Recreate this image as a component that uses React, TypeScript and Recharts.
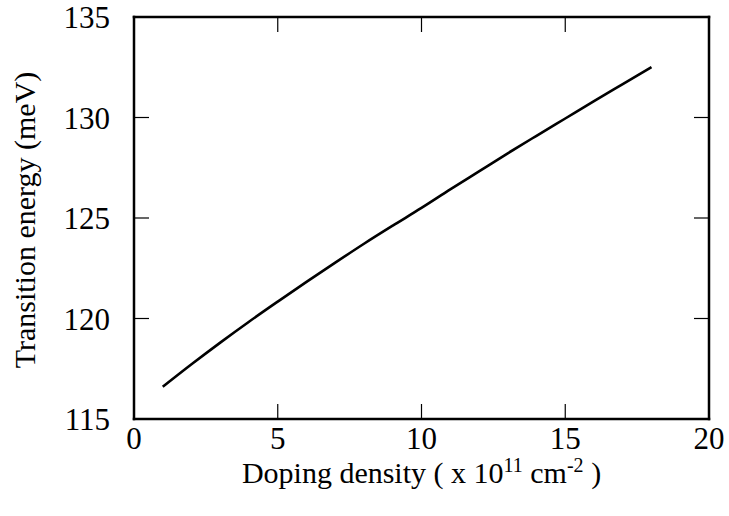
import React from 'react';
import { LineChart, Line, XAxis, YAxis, Label } from 'recharts';

// Doping density (units of 1e11 cm^-2)
const dopingDensity = [1, 2, 3, 4, 5, 6, 7, 8, 9, 10, 11, 12, 13, 14, 15, 16, 17, 18];
// Transition energy (meV)
const transitionEnergy = [
  116.6, 117.72, 118.8, 119.84, 120.84, 121.82, 122.78, 123.72, 124.62, 125.5,
  126.42, 127.32, 128.22, 129.09, 129.95, 130.81, 131.66, 132.51,
];
const xTicks = [0, 5, 10, 15, 20];
const yTicks = [115, 120, 125, 130, 135];

const data = dopingDensity.map((d, i) => ({ d, e: transitionEnergy[i] }));

const FONT = '"Liberation Serif", "Times New Roman", serif';
const TICK_FONT_SIZE = 31;
const TITLE_FONT_SIZE = 30;
const TICK_LEN = 15;
const xDomain: [number, number] = [xTicks[0], xTicks[xTicks.length - 1]];
const yDomain: [number, number] = [yTicks[0], yTicks[yTicks.length - 1]];

const isInner = (v: number, dom: [number, number]) => v > dom[0] && v < dom[1];

// Inward-pointing tick marks on all four sides of the frame
const BottomTick = (props: any) => {
  const { x, y, payload } = props;
  const v = payload.value;
  return (
    <g>
      {isInner(v, xDomain) && (
        <line x1={x} y1={y} x2={x} y2={y - TICK_LEN} stroke="#000" strokeWidth={1.2} />
      )}
      <text x={x} y={y + 30} textAnchor="middle" fontFamily={FONT} fontSize={TICK_FONT_SIZE} fill="#000">
        {v}
      </text>
    </g>
  );
};

const TopTick = (props: any) => {
  const { x, y, payload } = props;
  if (!isInner(payload.value, xDomain)) return <g />;
  return <line x1={x} y1={y} x2={x} y2={y + TICK_LEN} stroke="#000" strokeWidth={1.2} />;
};

const LeftTick = (props: any) => {
  const { x, y, payload } = props;
  const v = payload.value;
  return (
    <g>
      {isInner(v, yDomain) && (
        <line x1={x} y1={y} x2={x + TICK_LEN} y2={y} stroke="#000" strokeWidth={1.2} />
      )}
      <text x={x - 24} y={y + 11} textAnchor="end" fontFamily={FONT} fontSize={TICK_FONT_SIZE} fill="#000">
        {v}
      </text>
    </g>
  );
};

const RightTick = (props: any) => {
  const { x, y, payload } = props;
  if (!isInner(payload.value, yDomain)) return <g />;
  return <line x1={x} y1={y} x2={x - TICK_LEN} y2={y} stroke="#000" strokeWidth={1.2} />;
};

const XTitle = (props: any) => {
  const vb = props.viewBox;
  const cx = vb.x + vb.width / 2;
  return (
    <text x={cx} y={vb.y + 64} textAnchor="middle" fontFamily={FONT} fontSize={TITLE_FONT_SIZE} fill="#000">
      Doping density ( x 10
      <tspan dy={-11} fontSize={20}>11</tspan>
      <tspan dy={11}>{'  cm'}</tspan>
      <tspan dy={-11} fontSize={20}>-2</tspan>
      <tspan dy={11}>{' )'}</tspan>
    </text>
  );
};

const YTitle = (props: any) => {
  const vb = props.viewBox;
  const cy = vb.y + vb.height / 2 + 2;
  const bx = 35;
  return (
    <text
      x={bx}
      y={cy}
      textAnchor="middle"
      fontFamily={FONT}
      fontSize={TITLE_FONT_SIZE}
      fill="#000"
      transform={`rotate(-90, ${bx}, ${cy})`}
    >
      Transition energy (meV)
    </text>
  );
};

const frame = { stroke: '#000', strokeWidth: 2.5, strokeLinecap: 'square' as const };

export default function App() {
  return (
    <div style={{ position: 'absolute', left: 0, top: 0, background: '#fff' }}>
      <LineChart
        width={729}
        height={516}
        data={data}
        margin={{ top: 16, right: 19, left: 0, bottom: 0 }}
      >
        <XAxis
          dataKey="d"
          type="number"
          domain={xDomain}
          ticks={xTicks}
          allowDataOverflow
          height={97}
          tickSize={0}
          tickMargin={0}
          axisLine={frame}
          tickLine={false}
          tick={<BottomTick />}
          interval={0}
        >
          <Label content={<XTitle />} />
        </XAxis>
        <XAxis
          xAxisId="top"
          orientation="top"
          dataKey="d"
          type="number"
          domain={xDomain}
          ticks={xTicks}
          allowDataOverflow
          height={1}
          tickSize={0}
          tickMargin={0}
          axisLine={frame}
          tickLine={false}
          tick={<TopTick />}
          interval={0}
        />
        <YAxis
          type="number"
          domain={yDomain}
          ticks={yTicks}
          allowDataOverflow
          width={134}
          tickSize={0}
          tickMargin={0}
          axisLine={frame}
          tickLine={false}
          tick={<LeftTick />}
          interval={0}
        >
          <Label content={<YTitle />} />
        </YAxis>
        <YAxis
          yAxisId="right"
          orientation="right"
          type="number"
          domain={yDomain}
          ticks={yTicks}
          allowDataOverflow
          width={1}
          tickSize={0}
          tickMargin={0}
          axisLine={frame}
          tickLine={false}
          tick={<RightTick />}
          interval={0}
        />
        <Line
          dataKey="e"
          type="monotone"
          stroke="#000"
          strokeWidth={2.6}
          dot={false}
          isAnimationActive={false}
        />
      </LineChart>
    </div>
  );
}
